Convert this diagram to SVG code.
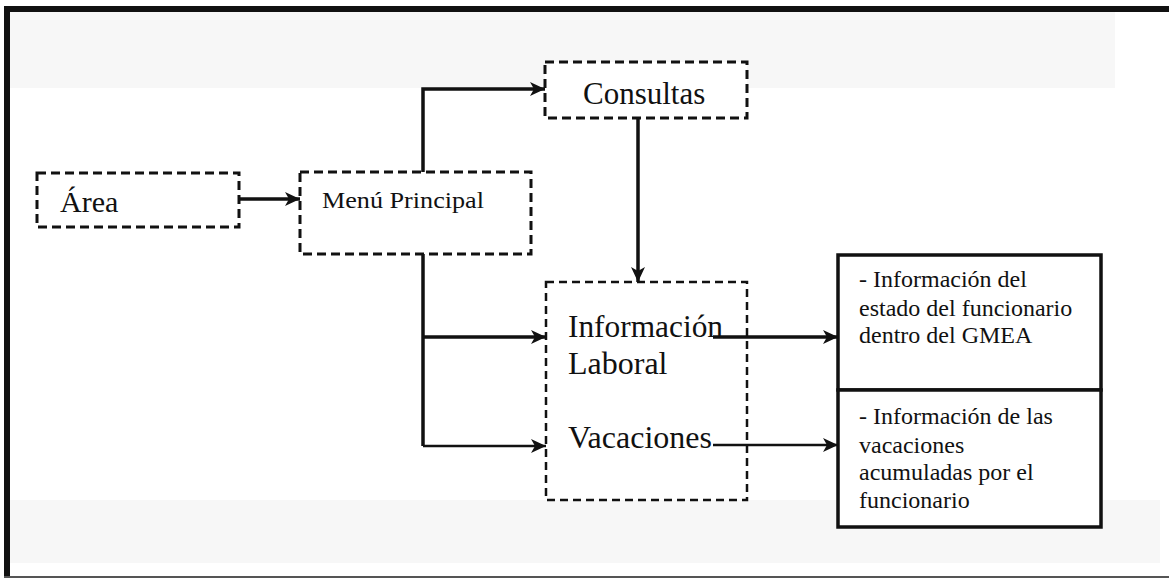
<svg xmlns="http://www.w3.org/2000/svg" width="1169" height="580" viewBox="0 0 1169 580">
  <defs>
    <style>
      .band { fill: #f7f7f7; }
      .dash { fill: #ffffff; stroke: #111; stroke-width: 3; stroke-dasharray: 9 5; }
      .dash-thin { fill: #ffffff; stroke: #111; stroke-width: 2.5; stroke-dasharray: 8 5; }
      .solid { fill: #ffffff; stroke: #111; stroke-width: 3.5; }
      .wire { fill: none; stroke: #111; stroke-width: 3.5; marker-end: url(#head); }
      .wire-plain { fill: none; stroke: #111; stroke-width: 3.5; }
      .wire-thin { fill: none; stroke: #111; stroke-width: 2.5; marker-end: url(#head); }
      .lbl { font-family: "Liberation Serif", "Times New Roman", serif; fill: #111; }
    </style>
    <marker id="head" markerUnits="userSpaceOnUse" markerWidth="18" markerHeight="14" refX="15" refY="7" orient="auto">
      <path d="M0,0 L15,7 L0,14 L4,7 z" fill="#111"/>
    </marker>
  </defs>

  <!-- page background and frame -->
  <rect x="0" y="0" width="1169" height="580" fill="#ffffff"/>
  <rect class="band" x="10" y="12" width="1105" height="76"/>
  <rect class="band" x="10" y="500" width="1150" height="63"/>
  <rect x="4" y="6" width="1165" height="6" fill="#111"/>
  <rect x="4" y="6" width="6" height="572" fill="#111"/>
  <rect x="4" y="576" width="1165" height="2" fill="#555"/>

  <g id="area">
    <rect class="dash" x="37" y="173" width="202" height="54"/>
    <text class="lbl" x="60" y="212" font-size="30">Área</text>
  </g>

  <g id="menu-principal">
    <rect class="dash" x="300" y="172" width="231" height="82"/>
    <text class="lbl" x="322" y="208" font-size="24" textLength="162" lengthAdjust="spacingAndGlyphs">Menú Principal</text>
  </g>

  <g id="consultas">
    <rect class="dash" x="545" y="62" width="202" height="56"/>
    <text class="lbl" x="583" y="104" font-size="31">Consultas</text>
  </g>

  <g id="informacion-laboral">
    <rect class="dash-thin" x="546" y="282" width="201" height="218"/>
    <text class="lbl" x="568" y="337" font-size="32" textLength="155" lengthAdjust="spacingAndGlyphs">Información</text>
    <text class="lbl" x="568" y="374" font-size="32">Laboral</text>
    <text class="lbl" x="568" y="448" font-size="32">Vacaciones</text>
  </g>

  <g id="estado-funcionario">
    <rect class="solid" x="838" y="255" width="263" height="135"/>
    <text class="lbl" x="859" y="287" font-size="24">- Información del</text>
    <text class="lbl" x="859" y="316" font-size="24">estado del funcionario</text>
    <text class="lbl" x="859" y="343" font-size="24">dentro del GMEA</text>
  </g>

  <g id="vacaciones-acumuladas">
    <rect class="solid" x="838" y="390" width="263" height="137"/>
    <text class="lbl" x="859" y="424" font-size="24">- Información de las</text>
    <text class="lbl" x="859" y="453" font-size="24">vacaciones</text>
    <text class="lbl" x="859" y="480" font-size="24">acumuladas por el</text>
    <text class="lbl" x="859" y="508" font-size="24">funcionario</text>
  </g>

  <!-- connectors, drawn over the boxes so the outgoing lines start inside them -->
  <g id="connectors">
    <path class="wire" d="M240,199 H300"/>
    <path class="wire" d="M423,172 V89 H545"/>
    <path class="wire" d="M638,118 V282"/>
    <path class="wire-plain" d="M423,254 V446"/>
    <path class="wire" d="M423,337 H546"/>
    <path class="wire-thin" d="M423,446 H546"/>
    <path class="wire" d="M713,337 H838"/>
    <path class="wire-thin" d="M713,445 H838"/>
  </g>
</svg>
